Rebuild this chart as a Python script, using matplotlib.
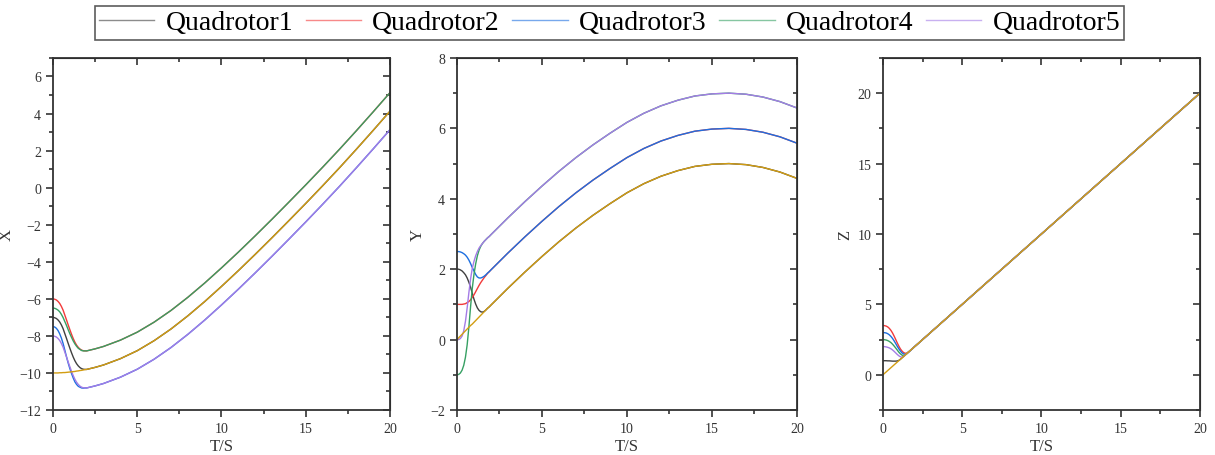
import matplotlib
matplotlib.use("Agg")
import matplotlib.pyplot as plt
from matplotlib.lines import Line2D
from matplotlib.ticker import MultipleLocator

plt.rcParams['font.family'] = ['Liberation Serif', 'DejaVu Serif']

# time samples (s)
T = [0.0, 0.1, 0.2, 0.3, 0.4, 0.5, 0.6, 0.7, 0.8, 0.9, 1.0, 1.1, 1.2, 1.3, 1.4, 1.5,
     1.6, 1.7, 1.8, 1.9, 2.0, 2.5, 3, 4, 5, 6, 7, 8, 9, 10, 11, 12, 13, 14, 15, 16,
     17, 18, 19, 20]

# ---------------- X ----------------
X_LEADER = [-10.00, -10.00, -10.00, -10.00, -9.99, -9.99, -9.98, -9.98, -9.97, -9.96,
            -9.95, -9.94, -9.93, -9.92, -9.90, -9.89, -9.87, -9.86, -9.84, -9.82, -9.81,
            -9.70, -9.57, -9.23, -8.80, -8.26, -7.63, -6.92, -6.15, -5.33, -4.48, -3.60,
            -2.70, -1.78, -0.85, 0.10, 1.07, 2.07, 3.09, 4.13]
X_Q1 = [-7.00, -7.02, -7.06, -7.14, -7.25, -7.41, -7.61, -7.87, -8.13, -8.40, -8.66,
        -8.91, -9.14, -9.34, -9.50, -9.62, -9.71, -9.77, -9.80, -9.81, -9.81,
        -9.70, -9.57, -9.23, -8.80, -8.26, -7.63, -6.92, -6.15, -5.33, -4.48, -3.60,
        -2.70, -1.78, -0.85, 0.10, 1.07, 2.07, 3.09, 4.13]
X_Q2 = [-6.00, -6.02, -6.06, -6.14, -6.25, -6.41, -6.61, -6.87, -7.13, -7.40, -7.66,
        -7.91, -8.14, -8.34, -8.50, -8.62, -8.71, -8.77, -8.80, -8.81, -8.81,
        -8.70, -8.57, -8.23, -7.80, -7.26, -6.63, -5.92, -5.15, -4.33, -3.48, -2.60,
        -1.70, -0.78, 0.15, 1.10, 2.07, 3.07, 4.09, 5.13]
X_Q3 = [-7.50, -7.52, -7.59, -7.71, -7.89, -8.12, -8.41, -8.76, -9.12, -9.46, -9.76,
        -10.03, -10.27, -10.48, -10.62, -10.72, -10.77, -10.81, -10.82, -10.81, -10.81,
        -10.70, -10.57, -10.23, -9.80, -9.26, -8.63, -7.92, -7.15, -6.33, -5.48, -4.60,
        -3.70, -2.78, -1.85, -0.90, 0.07, 1.07, 2.09, 3.13]
X_Q4 = [-6.50, -6.51, -6.55, -6.61, -6.70, -6.84, -7.01, -7.22, -7.43, -7.66, -7.88,
        -8.08, -8.27, -8.43, -8.56, -8.67, -8.73, -8.79, -8.81, -8.81, -8.81,
        -8.70, -8.57, -8.23, -7.80, -7.26, -6.63, -5.92, -5.15, -4.33, -3.48, -2.60,
        -1.70, -0.78, 0.15, 1.10, 2.07, 3.07, 4.09, 5.13]
X_Q5 = [-8.00, -8.02, -8.06, -8.14, -8.25, -8.41, -8.61, -8.87, -9.13, -9.40, -9.66,
        -9.91, -10.14, -10.34, -10.50, -10.62, -10.71, -10.77, -10.80, -10.81, -10.81,
        -10.70, -10.57, -10.23, -9.80, -9.26, -8.63, -7.92, -7.15, -6.33, -5.48, -4.60,
        -3.70, -2.78, -1.85, -0.90, 0.07, 1.07, 2.09, 3.13]

# ---------------- Y ----------------
Y_LEADER = [0.00, 0.05, 0.10, 0.15, 0.20, 0.25, 0.30, 0.35, 0.40, 0.44, 0.49, 0.54, 0.59,
            0.64, 0.69, 0.74, 0.79, 0.84, 0.89, 0.93, 0.98,
            1.22, 1.46, 1.92, 2.36, 2.78, 3.17, 3.53, 3.86, 4.17, 4.43, 4.64, 4.80, 4.92,
            4.98, 5.00, 4.97, 4.89, 4.76, 4.58]
Y_Q1 = [2.00, 2.00, 1.98, 1.95, 1.90, 1.84, 1.75, 1.63, 1.49, 1.32, 1.15, 1.01, 0.90,
        0.83, 0.79, 0.78, 0.80, 0.84, 0.89, 0.93, 0.98,
        1.22, 1.46, 1.92, 2.36, 2.78, 3.17, 3.53, 3.86, 4.17, 4.43, 4.64, 4.80, 4.92,
        4.98, 5.00, 4.97, 4.89, 4.76, 4.58]
Y_Q2 = [1.00, 1.00, 1.00, 1.00, 1.01, 1.02, 1.05, 1.08, 1.13, 1.20, 1.27, 1.36, 1.45,
        1.54, 1.62, 1.69, 1.76, 1.82, 1.88, 1.93, 1.98,
        2.22, 2.46, 2.92, 3.36, 3.78, 4.17, 4.53, 4.86, 5.17, 5.43, 5.64, 5.80, 5.92,
        5.98, 6.00, 5.97, 5.89, 5.76, 5.58]
Y_Q3 = [2.50, 2.50, 2.49, 2.47, 2.44, 2.40, 2.34, 2.26, 2.16, 2.05, 1.95, 1.85, 1.78,
        1.75, 1.75, 1.77, 1.80, 1.84, 1.89, 1.93, 1.98,
        2.22, 2.46, 2.92, 3.36, 3.78, 4.17, 4.53, 4.86, 5.17, 5.43, 5.64, 5.80, 5.92,
        5.98, 6.00, 5.97, 5.89, 5.76, 5.58]
Y_Q4 = [-1.00, -0.99, -0.95, -0.87, -0.73, -0.50, -0.15, 0.35, 0.93, 1.45, 1.85, 2.15,
        2.38, 2.54, 2.65, 2.73, 2.79, 2.84, 2.89, 2.93, 2.98,
        3.22, 3.46, 3.92, 4.36, 4.78, 5.17, 5.53, 5.86, 6.17, 6.43, 6.64, 6.80, 6.92,
        6.98, 7.00, 6.97, 6.89, 6.76, 6.58]
Y_Q5 = [0.00, 0.00, 0.03, 0.10, 0.25, 0.52, 0.90, 1.33, 1.72, 2.02, 2.22, 2.38, 2.50,
        2.60, 2.67, 2.73, 2.79, 2.84, 2.89, 2.93, 2.98,
        3.22, 3.46, 3.92, 4.36, 4.78, 5.17, 5.53, 5.86, 6.17, 6.43, 6.64, 6.80, 6.92,
        6.98, 7.00, 6.97, 6.89, 6.76, 6.58]

# ---------------- Z ----------------
Z_LEADER = [0.0, 0.1, 0.2, 0.3, 0.4, 0.5, 0.6, 0.7, 0.8, 0.9, 1.0, 1.1, 1.2, 1.3, 1.4, 1.5,
            1.6, 1.7, 1.8, 1.9, 2.0, 2.5, 3, 4, 5, 6, 7, 8, 9, 10, 11, 12, 13, 14, 15, 16,
            17, 18, 19, 20]
Z_Q1 = [1.00, 1.00, 1.00, 0.99, 0.99, 0.98, 0.97, 0.97, 0.97, 0.98, 1.02, 1.10, 1.20,
        1.30, 1.40, 1.50, 1.60, 1.70, 1.80, 1.90, 2.00,
        2.5, 3, 4, 5, 6, 7, 8, 9, 10, 11, 12, 13, 14, 15, 16, 17, 18, 19, 20]
Z_Q2 = [3.50, 3.49, 3.46, 3.40, 3.30, 3.16, 2.98, 2.76, 2.52, 2.27, 2.04, 1.84, 1.69,
        1.58, 1.53, 1.53, 1.61, 1.70, 1.80, 1.90, 2.00,
        2.5, 3, 4, 5, 6, 7, 8, 9, 10, 11, 12, 13, 14, 15, 16, 17, 18, 19, 20]
Z_Q3 = [3.00, 2.99, 2.97, 2.92, 2.84, 2.73, 2.59, 2.42, 2.23, 2.03, 1.85, 1.69, 1.56,
        1.48, 1.45, 1.50, 1.60, 1.70, 1.80, 1.90, 2.00,
        2.5, 3, 4, 5, 6, 7, 8, 9, 10, 11, 12, 13, 14, 15, 16, 17, 18, 19, 20]
Z_Q4 = [2.50, 2.49, 2.47, 2.43, 2.37, 2.29, 2.18, 2.05, 1.91, 1.76, 1.61, 1.49, 1.40,
        1.36, 1.40, 1.50, 1.60, 1.70, 1.80, 1.90, 2.00,
        2.5, 3, 4, 5, 6, 7, 8, 9, 10, 11, 12, 13, 14, 15, 16, 17, 18, 19, 20]
Z_Q5 = [2.00, 2.00, 1.98, 1.95, 1.91, 1.85, 1.77, 1.67, 1.56, 1.45, 1.35, 1.28, 1.25,
        1.30, 1.40, 1.50, 1.60, 1.70, 1.80, 1.90, 2.00,
        2.5, 3, 4, 5, 6, 7, 8, 9, 10, 11, 12, 13, 14, 15, 16, 17, 18, 19, 20]

NAMES = ['Quadrotor1', 'Quadrotor2', 'Quadrotor3', 'Quadrotor4', 'Quadrotor5']
COLORS = ['#404040', '#f23a3a', '#1d6fe0', '#36a063', '#a47ce6']
LEADER_COLOR = '#d29d12'
AXIS_LABELS = ['X', 'Y', 'Z']
XLABEL = 'T/S'

panels = [
    (X_LEADER, [X_Q1, X_Q2, X_Q3, X_Q4, X_Q5], (-12, 7), 2, 1),
    (Y_LEADER, [Y_Q1, Y_Q2, Y_Q3, Y_Q4, Y_Q5], (-2, 8), 2, 1),
    (Z_LEADER, [Z_Q1, Z_Q2, Z_Q3, Z_Q4, Z_Q5], (-2.5, 22.5), 5, 2.5),
]
rects = [
    [0.0436, 0.0987, 0.2774, 0.772],
    [0.3761, 0.0987, 0.2798, 0.772],
    [0.7267, 0.0987, 0.2609, 0.772],
]

fig = plt.figure(figsize=(12.15, 4.56), dpi=100)
for (lead, fol, ylim, maj, mnr), rect, lab in zip(panels, rects, AXIS_LABELS):
    ax = fig.add_axes(rect)
    for series, c in zip(fol, COLORS):
        ax.plot(T, series, color=c, lw=1.0)
    ax.plot(T, lead, color=LEADER_COLOR, lw=1.0)
    ax.set_xlim(0, 20)
    ax.set_ylim(*ylim)
    ax.xaxis.set_major_locator(MultipleLocator(5))
    ax.xaxis.set_minor_locator(MultipleLocator(2.5))
    ax.yaxis.set_major_locator(MultipleLocator(maj))
    ax.yaxis.set_minor_locator(MultipleLocator(mnr))
    for sp in ax.spines.values():
        sp.set_linewidth(1.3)
        sp.set_color('#333333')
    ax.tick_params(which='both', direction='out', top=False, right=False,
                   labelsize=10, colors='#333333', width=1.2)
    ax.tick_params(which='major', length=5)
    ax.tick_params(which='minor', length=3)
    axt = ax.secondary_xaxis('top')
    axt.xaxis.set_major_locator(MultipleLocator(5))
    axt.xaxis.set_minor_locator(MultipleLocator(2.5))
    axt.tick_params(which='both', direction='in', labeltop=False, width=1.2, colors='#333333')
    axt.tick_params(which='major', length=5)
    axt.tick_params(which='minor', length=3)
    axr = ax.secondary_yaxis('right')
    axr.yaxis.set_major_locator(MultipleLocator(maj))
    axr.yaxis.set_minor_locator(MultipleLocator(mnr))
    axr.tick_params(which='both', direction='in', labelright=False, width=1.2, colors='#333333')
    axr.tick_params(which='major', length=5)
    axr.tick_params(which='minor', length=3)
    ax.set_xlabel(XLABEL, fontsize=12, color='#333333', labelpad=2)
    ax.set_ylabel(lab, fontsize=12, color='#333333', labelpad=3)

handles = [Line2D([], [], color=c, lw=1.0, alpha=0.6) for c in COLORS]
leg = fig.legend(handles, NAMES, loc='center', bbox_to_anchor=(0.5016, 0.948), ncol=5,
                 fontsize=20, frameon=True, fancybox=False, edgecolor='#333333',
                 handlelength=2.0, handletextpad=0.4, columnspacing=0.45,
                 borderpad=0.15, borderaxespad=0)
leg.get_frame().set_linewidth(1.2)

fig.savefig('out.png', dpi=100)
